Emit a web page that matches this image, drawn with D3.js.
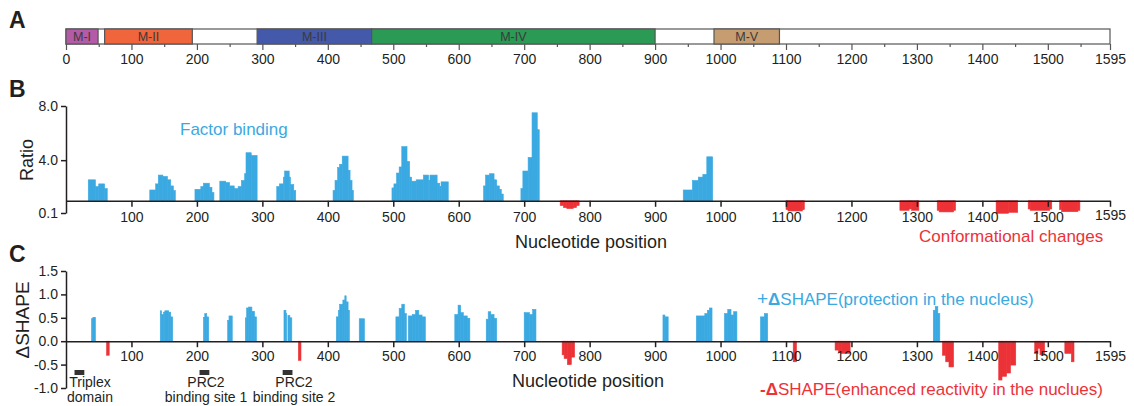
<!DOCTYPE html>
<html>
<head>
<meta charset="utf-8">
<script src="https://cdn.jsdelivr.net/npm/d3@7"></script>
<style>
body { margin: 0; background: #fff; }
text { font-family: "Liberation Sans", Arial, sans-serif; }
</style>
</head>
<body>
<div id="chart"></div>
<script>
// panel A domains
var domainNames = ["M-I", "M-II", "M-III", "M-IV", "M-V"];
var domainStart = [0, 59, 292, 467, 990];
var domainEnd = [49, 193, 467, 900, 1090];
var domainColors = ["#b55aa6", "#f0653b", "#4459a9", "#2b9a55", "#c59d71"];

var ticksA = [0, 100, 200, 300, 400, 500, 600, 700, 800, 900, 1000, 1100, 1200, 1300, 1400, 1500, 1595];
var minorA = [50, 150, 250, 350, 450, 550, 650, 750, 850, 950, 1050, 1150, 1250, 1350, 1450, 1550];
var ticksBC = [100, 200, 300, 400, 500, 600, 700, 800, 900, 1000, 1100, 1200, 1300, 1400, 1500, 1595];

// panel B: [start, end, ratio]
var bindingUp = [
  [34,45,2.55],[45,50,2.05],[50,59,2.25],[59,63,1.9],
  [128,137,1.8],[137,141,2.25],[141,148,2.9],[148,155,2.8],[155,160,2.55],[160,164,2.1],[164,167,1.75],
  [197,206,1.85],[206,210,2.05],[210,219,2.3],[219,223,2.0],[223,226,1.6],
  [235,244,2.45],[244,250,2.35],[250,257,2.1],[257,263,1.9],[263,268,2.05],[268,273,2.5],[273,275,3.0],[275,283,4.55],[283,292,4.35],
  [322,326,2.05],[326,332,2.25],[332,334,2.75],[334,341,3.2],[341,343,2.75],[343,348,2.2],[348,351,1.75],
  [408,411,1.75],[411,415,2.5],[415,418,3.45],[418,422,3.7],[422,431,4.3],[431,434,3.25],[434,437,2.5],[437,439,1.75],
  [498,501,1.95],[501,505,2.25],[505,509,3.05],[509,513,3.5],[513,521,5.0],[521,525,3.9],[525,528,2.75],[528,535,2.45],
  [535,546,2.55],[546,554,2.9],[554,556,2.5],[556,567,2.9],[567,571,2.3],[571,573,2.05],[573,584,2.4],
  [638,641,2.1],[641,647,2.9],[647,654,3.0],[654,658,2.55],[658,662,2.1],[662,665,1.85],[665,668,1.5],
  [695,698,1.9],[698,706,3.2],[706,712,4.2],[712,720,7.5],[720,723,6.25],
  [943,957,1.8],[957,966,2.5],[966,973,2.75],[973,979,2.95],[979,988,4.25]
];
var bindingDown = [
  [755,760,0.65],[760,765,0.5],[765,775,0.43],[775,780,0.5],[780,784,0.65],
  [1100,1103,0.35],[1103,1125,0.25],[1125,1128,0.35],
  [1274,1288,0.3],[1288,1292,0.4],[1292,1303,0.3],
  [1331,1334,0.3],[1334,1356,0.18],[1356,1359,0.3],
  [1421,1440,0.08],[1440,1454,0.15],
  [1470,1473,0.4],[1473,1503,0.3],[1503,1506,0.4],
  [1518,1521,0.35],[1521,1546,0.2],[1546,1549,0.3]
];

// panel C: [start, end, delta SHAPE]
var shapeUp = [
  [39,41,0.48],[41,45,0.51],
  [144,146,0.65],[146,149,0.57],[149,151,0.62],[151,157,0.65],[157,160,0.62],[160,163,0.52],
  [210,212,0.51],[212,215,0.59],[215,218,0.52],
  [247,249,0.44],[249,254,0.54],
  [274,276,0.5],[276,279,0.71],[279,284,0.73],[284,288,0.64],[288,291,0.52],
  [333,336,0.66],[336,337,0.6],[339,342,0.55],[342,345,0.5],
  [413,416,0.52],[416,418,0.66],[418,423,0.79],[423,426,0.88],[426,428,0.97],[428,431,0.84],[431,433,0.66],
  [448,456,0.48],
  [504,509,0.52],[509,513,0.7],[513,517,0.79],[517,520,0.59],
  [523,529,0.54],[529,534,0.57],[534,539,0.66],[539,544,0.56],[544,549,0.52],
  [594,599,0.57],[599,603,0.77],[603,607,0.61],[607,613,0.54],[613,617,0.49],
  [642,645,0.47],[645,649,0.63],[649,654,0.57],[654,658,0.49],
  [700,708,0.61],[708,713,0.57],[713,718,0.68],
  [912,915,0.56],[915,920,0.52],
  [963,976,0.54],[976,980,0.59],[980,983,0.66],[983,987,0.71],
  [1006,1011,0.59],[1011,1016,0.68],[1016,1020,0.56],[1020,1025,0.63],
  [1061,1067,0.52],[1067,1072,0.59],
  [1325,1328,0.66],[1328,1332,0.74],[1332,1335,0.59]
];
var shapeDown = [
  [62,66,-0.3],
  [355,359,-0.41],
  [758,761,-0.29],[761,766,-0.37],[766,772,-0.5],[772,777,-0.34],
  [1111,1116,-0.44],
  [1175,1180,-0.19],[1180,1185,-0.24],[1185,1198,-0.26],
  [1339,1344,-0.3],[1344,1349,-0.44],[1349,1356,-0.55],
  [1425,1430,-0.83],[1430,1437,-0.75],[1437,1443,-0.68],[1443,1451,-0.51],
  [1480,1485,-0.26],[1485,1488,-0.15],[1488,1495,-0.29],
  [1526,1536,-0.26],[1536,1540,-0.44]
];

// binding sites under panel C
var siteStart = [13, 204, 331];
var siteEnd = [28, 219, 346];
var siteLine1 = ["Triplex", "PRC2", "PRC2"];
var siteLine2 = ["domain", "binding site 1", "binding site 2"];

var blue = "#3ba9e1";
var red = "#ec3237";
var ink = "#231f20";

var svg = d3.select("#chart").append("svg")
    .attr("width", 1134)
    .attr("height", 406);

var x = d3.scaleLinear().domain([0, 1595]).range([66, 1110]);
var fmtInt = d3.format("d");

function styleAxis(g, size) {
    g.select(".domain").attr("stroke", ink).attr("stroke-width", 1.5);
    g.selectAll(".tick line").attr("stroke", ink).attr("stroke-width", 1.5);
    g.selectAll(".tick text")
        .attr("fill", ink)
        .style("font-family", "'Liberation Sans', Arial, sans-serif")
        .style("font-size", size + "px");
}

function raiseLast(g, dy) {
    g.selectAll(".tick text").filter(d => d === 1595).attr("y", function() {
        return +d3.select(this).attr("y") - dy;
    });
}

function panelLetter(txt, y) {
    svg.append("text").attr("x", 9).attr("y", y).text(txt)
        .style("font-size", "23px").style("font-weight", "bold").attr("fill", ink);
}

// ---------- A ----------
panelLetter("A", 28);
var barTop = 29, barH = 15;

svg.append("rect")
    .attr("x", x(0)).attr("y", barTop)
    .attr("width", x(1595) - x(0)).attr("height", barH)
    .attr("fill", "#fff").attr("stroke", "#555").attr("stroke-width", 1.2);

svg.selectAll("rect.dom")
    .data(domainNames)
    .enter()
    .append("rect")
    .attr("class", "dom")
    .attr("x", (d, i) => x(domainStart[i]))
    .attr("y", barTop)
    .attr("width", (d, i) => x(domainEnd[i]) - x(domainStart[i]))
    .attr("height", barH)
    .attr("fill", (d, i) => domainColors[i])
    .attr("stroke", "#555")
    .attr("stroke-width", 1.2);

svg.selectAll("text.dom")
    .data(domainNames)
    .enter()
    .append("text")
    .attr("x", (d, i) => (x(domainStart[i]) + x(domainEnd[i])) / 2)
    .attr("y", barTop + barH / 2 + 4.5)
    .attr("text-anchor", "middle")
    .attr("fill", "#3a3a3a")
    .style("font-size", "12.5px")
    .text(d => d);

var axA = svg.append("g")
    .attr("transform", `translate(0, ${barTop + barH})`)
    .call(d3.axisBottom(x).tickValues(ticksA).tickFormat(fmtInt).tickSize(6).tickPadding(4).tickSizeOuter(0));
axA.select(".domain").remove();
styleAxis(axA, 14);
axA.selectAll(".tick line").attr("stroke", "#555").attr("stroke-width", 1.2);

var axA2 = svg.append("g")
    .attr("transform", `translate(0, ${barTop + barH})`)
    .call(d3.axisBottom(x).tickValues(minorA).tickSize(3).tickFormat(""));
axA2.select(".domain").remove();
axA2.selectAll(".tick line").attr("stroke", "#555").attr("stroke-width", 1.2);

// ---------- B ----------
panelLetter("B", 97);
var yB = d3.scaleLinear().domain([0.1, 8]).range([213, 106]);

svg.selectAll("rect.bind")
    .data(bindingUp.concat(bindingDown))
    .enter()
    .append("rect")
    .attr("x", d => x(d[0]))
    .attr("width", d => x(d[1]) - x(d[0]))
    .attr("y", d => Math.min(yB(d[2]), yB(1)))
    .attr("height", d => Math.abs(yB(d[2]) - yB(1)))
    .attr("fill", d => d[2] >= 1 ? blue : red)
    .attr("stroke", d => d[2] >= 1 ? blue : red)
    .attr("stroke-width", 0.6);

var axBx = svg.append("g")
    .attr("transform", `translate(0, ${yB(1)})`)
    .call(d3.axisBottom(x).tickValues(ticksBC).tickFormat(fmtInt).tickSize(6).tickPadding(5).tickSizeOuter(0));
styleAxis(axBx, 14);
raiseLast(axBx, 2);

var axBy = svg.append("g")
    .attr("transform", `translate(${x(0)}, 0)`)
    .call(d3.axisLeft(yB).tickValues([0.1, 4.0, 8.0]).tickFormat(d => d.toFixed(1)).tickSize(5).tickPadding(3).tickSizeOuter(0));
styleAxis(axBy, 14);

svg.append("text")
    .attr("transform", "translate(33, 160) rotate(-90)")
    .attr("text-anchor", "middle")
    .attr("fill", ink)
    .style("font-size", "18px")
    .text("Ratio");

svg.append("text").attr("x", 180).attr("y", 135)
    .attr("fill", blue).style("font-size", "17px").text("Factor binding");

svg.append("text").attr("x", 591).attr("y", 248).attr("text-anchor", "middle")
    .attr("fill", ink).style("font-size", "18px").text("Nucleotide position");

svg.append("text").attr("x", 919).attr("y", 242)
    .attr("fill", red).style("font-size", "17px").text("Conformational changes");

// ---------- C ----------
panelLetter("C", 262);
var yC = d3.scaleLinear().domain([-1, 1.5]).range([388, 271]);

svg.selectAll("rect.shape")
    .data(shapeUp.concat(shapeDown))
    .enter()
    .append("rect")
    .attr("x", d => x(d[0]))
    .attr("width", d => x(d[1]) - x(d[0]))
    .attr("y", d => Math.min(yC(d[2]), yC(0)))
    .attr("height", d => Math.abs(yC(d[2]) - yC(0)))
    .attr("fill", d => d[2] >= 0 ? blue : red)
    .attr("stroke", d => d[2] >= 0 ? blue : red)
    .attr("stroke-width", 0.6);

var axCx = svg.append("g")
    .attr("transform", `translate(0, ${yC(0)})`)
    .call(d3.axisBottom(x).tickValues(ticksBC).tickFormat(fmtInt).tickSize(6).tickPadding(4).tickSizeOuter(0));
styleAxis(axCx, 14);

var axCy = svg.append("g")
    .attr("transform", `translate(${x(0)}, 0)`)
    .call(d3.axisLeft(yC).tickValues([-1, -0.5, 0, 0.5, 1, 1.5]).tickFormat(d => d.toFixed(1)).tickSize(5).tickPadding(3).tickSizeOuter(0));
styleAxis(axCy, 14);

svg.append("text")
    .attr("transform", "translate(29, 320) rotate(-90)")
    .attr("text-anchor", "middle")
    .attr("fill", ink)
    .style("font-size", "19px")
    .text("ΔSHAPE");

svg.append("text").attr("x", 588).attr("y", 387).attr("text-anchor", "middle")
    .attr("fill", ink).style("font-size", "18px").text("Nucleotide position");

// site markers
svg.selectAll("rect.site")
    .data(siteStart)
    .enter()
    .append("rect")
    .attr("x", (d, i) => x(d))
    .attr("width", (d, i) => x(siteEnd[i]) - x(d))
    .attr("y", 370)
    .attr("height", 5)
    .attr("fill", "#333");

var siteCenters = [90, 206, 294];
siteLine1.forEach(function(t, i) {
    svg.append("text").attr("x", siteCenters[i]).attr("y", 387).attr("text-anchor", "middle")
        .attr("fill", ink).style("font-size", "14px").text(t);
    svg.append("text").attr("x", siteCenters[i]).attr("y", 402).attr("text-anchor", "middle")
        .attr("fill", ink).style("font-size", "14px").text(siteLine2[i]);
});

// legend text
var leg1 = svg.append("text").attr("x", 757).attr("y", 305).attr("fill", blue).style("font-size", "17px");
leg1.append("tspan").style("font-size", "19px").text("+");
leg1.append("tspan").style("font-weight", "bold").text("Δ");
leg1.append("tspan").text("SHAPE(protection in the nucleus)");

var leg2 = svg.append("text").attr("x", 760).attr("y", 395).attr("fill", red).style("font-size", "17px");
leg2.append("tspan").style("font-weight", "bold").text("-");
leg2.append("tspan").style("font-weight", "bold").text("Δ");
leg2.append("tspan").text("SHAPE(enhanced reactivity in the nuclues)");
</script>
</body>
</html>
